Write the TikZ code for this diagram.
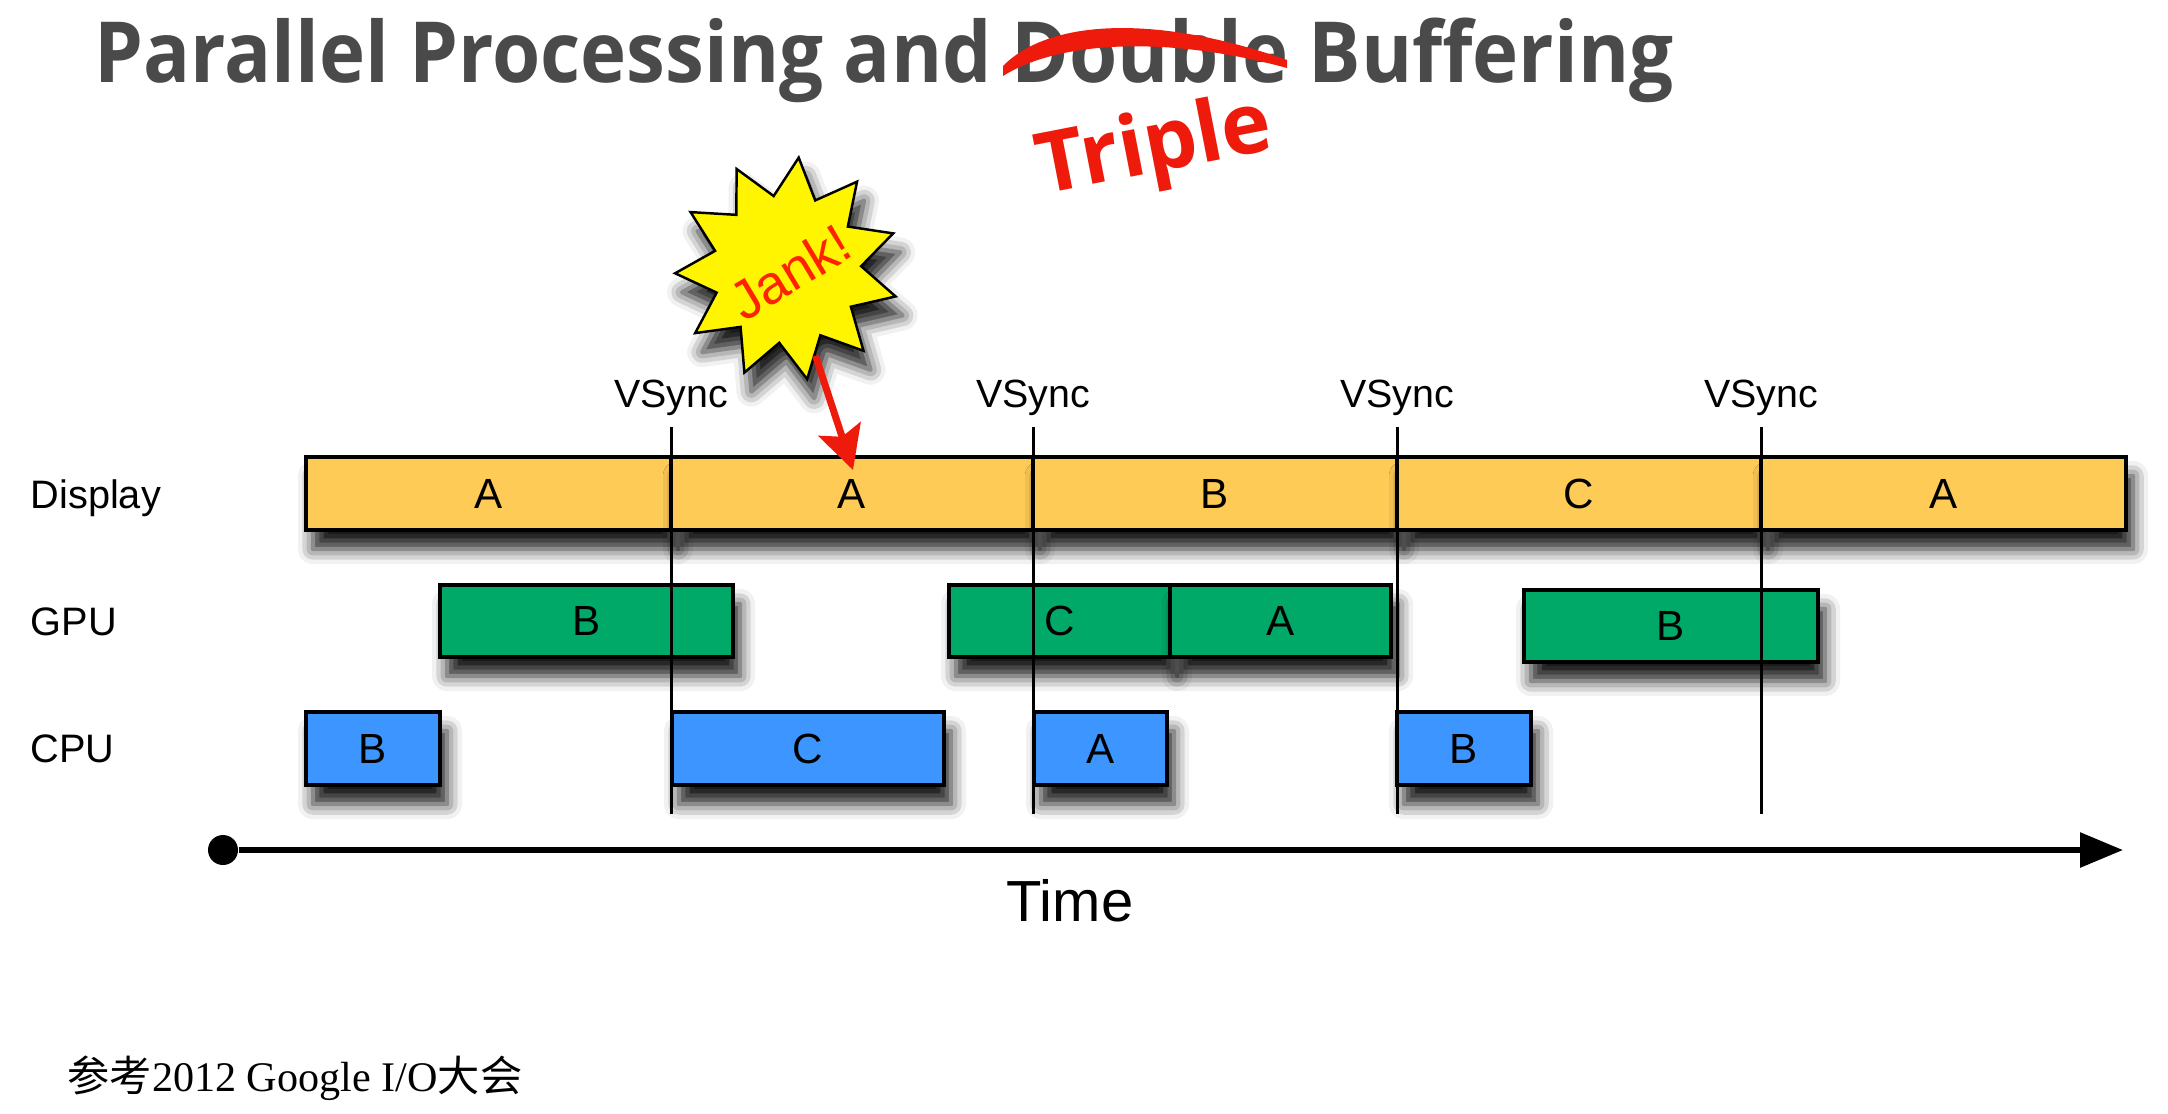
\documentclass[tikz,border=0pt]{standalone}
\usepackage{fontspec}
\usepackage{xcolor}
\usepackage{tikz}
\usetikzlibrary{positioning,calc,arrows.meta,shapes.geometric,shadows.blur}
\setmainfont{Liberation Sans}
\newfontfamily\titlefont[FakeStretch=0.925]{Open Sans}
\newfontfamily\markfont{Open Sans}
\newfontfamily\cjkfont{Noto Sans CJK SC}
\newfontfamily\footserif{Liberation Serif}
\definecolor{dispyellow}{HTML}{FECB57}
\definecolor{gpugreen}{HTML}{00A968}
\definecolor{cpublue}{HTML}{3D96FF}
\definecolor{jankyellow}{HTML}{FFF500}
\definecolor{jankred}{HTML}{FF2200}
\definecolor{markred}{HTML}{EE1A0C}
\definecolor{titlegray}{HTML}{4A4A4A}

\begin{document}
\begin{tikzpicture}[
  boxshadow/.style={blur shadow={shadow xshift=0.7mm, shadow yshift=-1.9mm, shadow blur radius=1.5mm, shadow opacity=90}},
  framebox/.style={rectangle, draw=black, line width=0.9pt, inner sep=0pt, font=\fontsize{12}{14}\selectfont, boxshadow},
  dispbox/.style={framebox, fill=dispyellow, minimum height=0.73cm},
  gpubox/.style={framebox, fill=gpugreen, minimum height=0.72cm},
  cpubox/.style={framebox, fill=cpublue, minimum height=0.73cm},
  rowlabel/.style={anchor=base west, inner sep=0pt, font=\fontsize{11.3}{13}\selectfont},
  vsynclabel/.style={anchor=base, inner sep=0pt, font=\fontsize{11.2}{13}\selectfont},
  vsyncline/.style={black, line width=0.85pt},
]
\useasboundingbox (0,0) rectangle (21.68,-11.13);
% 1 cm = 100 px of the 2168 x 1113 slide

% title, with the red brush stroke over "Double"
\node[anchor=base west, inner sep=0pt, text=titlegray, font=\titlefont\bfseries\fontsize{24}{28}\selectfont] (title) at (0.94,-0.82) {Parallel Processing and Double Buffering};
\fill[markred] (10.03,-0.66) .. controls (10.5,-0.18) and (11.6,-0.15) .. (12.87,-0.60)
  -- (12.87,-0.68) .. controls (11.7,-0.36) and (10.6,-0.40) .. (10.03,-0.76) -- cycle;
\node[text=markred, rotate=11, font=\markfont\bfseries\fontsize{24}{28}\selectfont] (triple) at (11.55,-1.50) {Triple};

% row labels
\node[rowlabel] (lbldisp) at (0.30,-5.08) {Display};
\node[rowlabel] (lblgpu)  at (0.30,-6.35) {GPU};
\node[rowlabel] (lblcpu)  at (0.30,-7.62) {CPU};

% display frames
\foreach \nm/\xa/\xb/\lab in {d1/3.06/6.71/A, d2/6.71/10.33/A, d3/10.33/13.97/B, d4/13.97/17.61/C, d5/17.61/21.26/A} {
  \pgfmathsetmacro{\xm}{(\xa+\xb)/2}
  \pgfmathsetmacro{\bw}{\xb-\xa}
  \node[dispbox, minimum width=\bw cm] (\nm) at (\xm,-4.935) {\lab};
}
% gpu work
\foreach \nm/\xa/\xb/\yc/\lab in {g1/4.40/7.33/-6.21/B, g2/9.49/11.70/-6.21/C, g3/11.70/13.91/-6.21/A, g4/15.24/18.18/-6.26/B} {
  \pgfmathsetmacro{\xm}{(\xa+\xb)/2}
  \pgfmathsetmacro{\bw}{\xb-\xa}
  \node[gpubox, minimum width=\bw cm] (\nm) at (\xm,\yc) {\lab};
}
% cpu work
\foreach \nm/\xa/\xb/\lab in {c1/3.06/4.40/B, c2/6.72/9.44/C, c3/10.34/11.67/A, c4/13.97/15.31/B} {
  \pgfmathsetmacro{\xm}{(\xa+\xb)/2}
  \pgfmathsetmacro{\bw}{\xb-\xa}
  \node[cpubox, minimum width=\bw cm] (\nm) at (\xm,-7.485) {\lab};
}

% vsync marks
\foreach \i/\x in {1/6.71, 2/10.33, 3/13.97, 4/17.61} {
  \node[vsynclabel] (vs\i) at (\x,-4.07) {VSync};
  \coordinate (vt\i) at (\x,-4.27);
  \coordinate (vb\i) at (\x,-8.14);
  \draw[vsyncline] (vt\i) -- (vb\i);
}

% time axis
\node[circle, fill=black, inner sep=0pt, minimum size=0.30cm] (t0) at (2.23,-8.50) {};
\coordinate (t1) at (21.23,-8.50);
\draw[line width=1.7pt, -{Triangle[length=0.43cm, width=0.34cm]}] (t0) -- (t1);
\node[anchor=base, inner sep=0pt, font=\fontsize{16.5}{19}\selectfont] (time) at (10.70,-9.21) {Time};

% jank
\node[star, star points=11, star point ratio=1.51, shape border rotate=-6, minimum size=2.24cm, inner sep=0pt,
      draw=black, line width=0.7pt, fill=jankyellow, boxshadow] (jank) at (7.87,-2.69) {};
\node[rotate=31, text=jankred, font=\fontsize{15.5}{18}\selectfont] (janktext) at (7.90,-2.72) {Jank!};
\coordinate (jankhit) at (8.53,-4.70);
\draw[markred, line width=2pt, -{Stealth[length=0.43cm, width=0.44cm, inset=0.08cm]}] (jank) -- (jankhit);

% source note
\node[anchor=base west, inner sep=0pt, font=\fontsize{12}{14}\selectfont] (source) at (0.67,-10.91)
  {{\cjkfont 参考}{\footserif 2012 Google I/O}{\cjkfont 大会}};
\end{tikzpicture}
\end{document}
